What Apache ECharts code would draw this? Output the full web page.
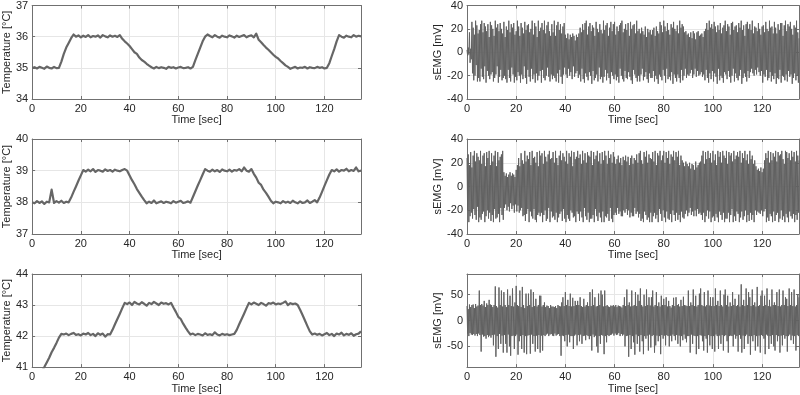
<!DOCTYPE html>
<html><head><meta charset="utf-8">
<script src="https://cdn.jsdelivr.net/npm/echarts@6/dist/echarts.min.js"></script>
<style>html,body{margin:0;padding:0;background:#fff}#c{width:800px;height:395px}</style>
</head><body><div id="c"></div>
<script>
// ---- data ----
const tempStep = 1;    // seconds between temperature samples
const emgStep = 0.25;  // seconds between sEMG samples

const temp1 = [35.0,35.02,34.98,35.03,35.0,34.97,35.04,35.0,34.98,35.03,34.99,35.0,
  35.2,35.45,35.65,35.8,35.95,36.07,
  36.0,36.04,35.98,36.03,35.99,36.05,35.98,36.02,36.0,36.04,35.97,36.05,36.01,35.98,36.04,36.0,36.03,35.99,36.05,
  35.93,35.85,35.78,35.7,35.6,35.5,35.45,35.33,35.25,35.2,35.13,35.07,35.02,34.98,
  35.03,34.99,35.02,35.0,34.97,35.03,35.0,35.02,34.98,35.01,35.03,34.99,35.0,35.02,34.98,35.03,
  35.25,35.45,35.65,35.85,36.0,36.07,
  36.02,35.98,36.05,36.0,35.97,36.03,36.0,35.98,36.04,36.01,35.97,36.03,35.99,36.02,36.05,35.98,36.02,36.04,
  35.98,36.1,35.9,35.82,35.73,35.65,35.58,35.5,35.42,35.35,35.3,35.22,35.15,35.08,35.03,34.97,
  35.0,35.03,34.98,35.01,35.0,35.03,34.98,35.02,35.0,34.99,35.03,35.0,35.02,34.98,35.0,
  35.15,35.38,35.6,35.85,36.05,
  36.0,35.97,36.03,36.0,35.98,36.05,36.0,36.03,36.01];
const temp2 = [38.0,37.97,38.04,37.98,38.03,37.95,38.02,38.0,38.4,37.98,38.04,37.99,38.05,37.98,38.02,38.0,
  38.15,38.33,38.5,38.68,38.85,39.02,
  38.97,39.03,38.98,39.05,38.96,39.02,39.0,38.97,39.04,38.99,39.02,38.97,39.03,39.0,38.98,39.02,39.05,39.0,
  38.85,38.7,38.57,38.42,38.3,38.18,38.07,37.97,
  38.02,37.98,38.06,37.97,38.0,38.03,37.98,38.02,38.0,37.97,38.04,37.99,38.02,38.05,37.98,38.0,38.03,37.99,
  38.17,38.35,38.53,38.7,38.88,39.05,
  39.0,38.97,39.03,38.98,39.02,38.96,39.04,39.0,38.98,39.03,38.97,39.02,39.0,39.05,38.98,39.1,39.0,38.97,39.05,
  38.9,38.78,38.62,38.55,38.4,38.3,38.18,38.05,37.97,
  38.02,38.0,37.97,38.04,37.99,38.02,37.98,38.05,38.0,37.97,38.03,37.98,38.0,38.06,37.98,38.02,38.07,38.0,
  38.15,38.33,38.52,38.7,38.88,39.02,
  38.98,39.04,38.97,39.02,39.0,39.06,38.98,39.02,38.99,39.1,38.98,39.0];
const temp3 = [40.3,40.45,40.6,40.72,40.87,41.0,41.15,41.3,41.48,41.62,41.78,41.95,42.07,
  42.05,42.08,42.03,42.07,42.1,42.04,42.06,42.02,42.08,42.05,42.1,42.03,42.07,42.0,42.09,42.04,42.08,41.98,42.06,42.05,
  42.2,42.38,42.55,42.72,42.9,43.07,
  43.03,43.08,43.0,43.1,43.05,43.02,43.09,43.04,42.98,43.07,43.03,43.1,43.05,43.0,43.08,43.04,43.06,43.02,43.07,
  42.92,42.78,42.62,42.55,42.4,42.27,42.15,42.05,
  42.08,42.03,42.07,42.05,42.02,42.09,42.04,42.06,42.03,42.12,42.05,42.02,42.07,42.04,42.06,42.03,42.05,42.07,
  42.2,42.38,42.55,42.72,42.9,43.07,
  43.02,43.08,43.04,43.0,43.07,43.03,42.98,43.06,43.04,43.08,43.02,43.05,43.03,43.07,43.12,43.0,43.06,43.03,43.05,43.0,
  42.85,42.68,42.5,42.32,42.15,42.05,
  42.08,42.04,42.07,42.02,42.06,42.1,42.03,42.07,42.0,42.08,42.05,42.11,42.02,42.07,42.04,42.09,42.01,42.06,42.08,42.15];

// sEMG, one row per 5 s (20 samples)
const emg1 = [
  2,-3,4,-2,17,-9,3,-6,26,-18,21,-24,15,-20,27,-11,23,-25,16,-22,
  19,-25,24,-14,27,-21,17,-23,25,-12,22,-26,18,-16,24,-20,13,-23,26,-19,
  23,-17,20,-25,14,-22,27,-19,21,-12,24,-26,18,-21,25,-15,20,-24,16,-22,
  26,-20,13,-23,22,-26,19,-15,27,-22,17,-25,24,-13,21,-19,25,-26,15,-21,
  18,-24,27,-17,22,-20,14,-26,25,-19,21,-23,16,-12,26,-22,19,-27,23,-15,
  24,-21,17,-25,20,-14,27,-23,15,-19,25,-26,22,-18,13,-24,27,-20,18,-16,
  21,-26,25,-15,19,-22,27,-24,16,-20,23,-13,26,-21,18,-25,14,-19,24,-23,
  17,-20,27,-22,14,-25,23,-18,26,-26,19,-15,24,-21,16,-27,22,-19,25,-13,
  15,-19,12,-22,16,-14,11,-20,15,-17,13,-23,16,-12,14,-21,10,-18,15,-16,
  13,-22,16,-19,21,-25,17,-14,24,-23,19,-26,25,-18,27,-21,15,-24,22,-17,
  25,-20,18,-27,23,-16,21,-24,14,-22,26,-19,20,-25,17,-13,24,-23,19,-21,
  16,-26,27,-21,19,-15,23,-24,25,-18,14,-22,21,-27,26,-17,18,-20,24,-23,
  26,-19,15,-24,22,-21,18,-26,23,-14,25,-20,27,-23,17,-25,20,-16,24,-22,
  19,-23,25,-17,14,-21,26,-24,20,-27,23,-15,24,-19,16,-22,27,-25,18,-20,
  20,-25,16,-19,21,-14,18,-24,15,-21,22,-17,13,-23,20,-26,17,-18,19,-22,
  15,-22,19,-16,21,-25,14,-20,22,-23,18,-27,16,-19,26,-21,23,-24,17,-15,
  27,-20,22,-26,18,-14,25,-23,19,-21,15,-24,24,-17,21,-27,26,-19,20,-22,
  18,-25,23,-19,16,-22,27,-26,21,-15,24,-24,22,-20,17,-14,18,-22,15,-19,
  16,-20,13,-18,17,-15,12,-22,18,-19,16,-14,11,-21,17,-16,18,-20,14,-19,
  15,-17,16,-21,13,-19,18,-24,20,-15,25,-22,19,-26,27,-18,21,-23,24,-16,
  20,-25,26,-18,22,-21,17,-27,23,-14,19,-24,25,-20,16,-22,21,-26,23,-17,
  27,-19,18,-23,24,-16,22,-21,15,-26,25,-20,26,-14,19,-25,22,-18,23,-22,
  17,-24,25,-20,21,-15,27,-27,19,-22,23,-18,14,-21,24,-25,26,-16,20,-22,
  24,-17,19,-14,27,-18,16,-20,22,-15,21,-19,18,-13,25,-17,20,-20,15,-16,
  22,-26,23,-19,17,-21,26,-15,20,-24,18,-22,27,-17,21,-25,22,-20,16,-23,
  26,-18,21,-27,16,-22,24,-23,19,-15,25,-26,25,-20,14,-21,23,-24,27,-19,
  18,-25,24,-16,22,-21,26,-19,20,-27,15,-22,23,-18,21,-24,27,-20,17,-26,
  12];
const emg2 = [
  24,-20,27,-30,18,-25,29,-22,16,-27,26,-19,30,-24,21,-28,28,-17,25,-30,
  22,-26,30,-28,19,-23,26,-21,28,-30,17,-25,29,-20,24,-27,30,-22,18,-29,
  28,-24,21,-30,26,-19,30,-27,17,-26,29,-23,22,-30,25,-18,27,-24,30,-28,
  12,-18,9,-15,11,-20,8,-17,10,-21,12,-14,9,-19,11,-16,10,-22,8,-15,
  14,-21,18,-16,24,-22,17,-20,28,-18,22,-25,19,-24,30,-29,21,-23,26,-19,
  23,-30,29,-21,18,-25,30,-27,24,-19,25,-28,20,-30,29,-24,17,-22,30,-25,
  26,-22,28,-30,19,-24,30,-20,25,-29,21,-27,27,-18,30,-30,23,-21,24,-26,
  29,-25,20,-28,30,-22,24,-30,18,-26,26,-23,30,-21,22,-29,28,-19,25,-27,
  21,-30,30,-24,19,-27,28,-29,25,-20,30,-22,17,-26,29,-25,23,-30,25,-21,
  30,-23,24,-29,27,-21,19,-26,30,-30,22,-18,28,-25,20,-28,29,-22,26,-30,
  25,-27,30,-27,18,-24,29,-30,23,-19,26,-25,30,-29,21,-22,28,-26,19,-30,
  29,-21,22,-30,30,-25,26,-26,19,-23,30,-29,24,-18,27,-27,20,-30,29,-24,
  25,-22,19,-24,23,-18,26,-23,20,-21,24,-25,18,-25,25,-20,22,-22,26,-19,
  21,-24,25,-20,18,-26,24,-22,26,-25,19,-25,24,-18,22,-23,27,-21,20,-26,
  28,-23,30,-29,22,-27,19,-30,29,-21,25,-24,30,-28,20,-26,27,-30,24,-22,
  23,-30,29,-25,21,-22,30,-27,18,-24,28,-30,26,-19,30,-23,22,-29,26,-20,
  30,-26,20,-30,29,-21,24,-27,30,-28,19,-23,27,-30,25,-20,30,-24,22,-29,
  29,-22,25,-28,30,-24,18,-30,26,-21,22,-26,20,-27,17,-23,21,-20,19,-25,
  17,-22,20,-18,15,-24,19,-21,18,-25,14,-20,21,-25,16,-19,18,-23,20,-22,
  21,-24,26,-28,30,-22,19,-30,29,-25,23,-20,30,-27,24,-21,28,-30,20,-26,
  30,-25,22,-29,27,-23,18,-26,30,-30,25,-21,29,-24,20,-28,30,-22,26,-30,
  24,-27,30,-27,19,-22,29,-30,26,-24,28,-19,21,-30,30,-25,23,-29,26,-21,
  29,-23,25,-30,30,-26,20,-21,28,-28,24,-25,30,-20,22,-30,27,-24,19,-29,
  30,-22,23,-28,26,-24,19,-30,22,-20,17,-24,14,-21,15,-22,13,-23,16,-20,
  12,-25,15,-21,22,-19,28,-30,24,-26,30,-29,20,-23,29,-25,22,-30,28,-21,
  25,-29,30,-24,21,-22,29,-30,26,-27,27,-20,30,-28,23,-25,19,-30,30,-23,
  29,-26,24,-30,28,-21,22,-25,30,-27,25,-23,29,-30,21,-24,30,-28,26,-22,
  22];
const emg3 = [
  28,-25,22,-30,31,-24,26,-27,30,-28,31,-26,24,-29,32,-26,27,-30,29,-25,
  58,-28,30,-60,32,-27,29,-31,38,-30,26,-35,33,-28,30,-32,40,-29,31,-33,
  30,-28,26,-48,30,-27,66,-70,28,-30,25,-55,64,-26,30,-45,58,-29,27,-62,
  55,-28,30,-45,26,-62,60,-27,30,-50,48,-68,28,-30,62,-29,27,-55,35,-30,
  67,-27,30,-66,28,-40,58,-30,26,-55,65,-28,30,-62,24,-30,52,-65,28,-29,
  52,-28,30,-64,60,-27,26,-45,55,-30,28,-60,42,-29,27,-55,30,-28,48,-62,
  48,-29,27,-58,30,-28,35,-30,26,-27,29,-25,28,-30,24,-27,30,-26,27,-29,
  27,-30,26,-25,28,-29,24,-27,30,-26,28,-30,27,-68,35,-29,45,-30,28,-40,
  55,-28,30,-50,40,-27,28,-42,52,-30,27,-30,44,-55,28,-29,38,-27,30,-48,
  38,-28,30,-40,45,-27,28,-45,26,-30,42,-29,27,-38,30,-28,35,-30,28,-36,
  55,-30,28,-58,60,-27,30,-32,45,-29,27,-50,28,-62,52,-30,30,-45,58,-28,
  50,-29,27,-65,58,-30,28,-42,30,-28,27,-30,26,-28,29,-27,28,-25,30,-29,
  27,-25,30,-28,26,-27,29,-24,28,-30,27,-26,25,-29,30,-27,45,-50,28,-30,
  60,-29,30,-70,35,-28,27,-55,58,-30,28,-42,30,-66,55,-27,28,-45,50,-30,
  38,-60,62,-28,30,-40,27,-65,50,-30,28,-35,60,-29,30,-58,45,-27,29,-52,
  45,-30,58,-28,27,-62,30,-48,55,-29,28,-40,35,-30,27,-65,48,-28,30,-35,
  42,-29,30,-48,45,-28,27,-30,38,-50,28,-29,25,-40,30,-27,44,-30,28,-38,
  45,-28,30,-45,32,-29,27,-50,40,-30,28,-38,46,-27,30,-35,29,-42,28,-30,
  58,-30,28,-62,35,-27,30,-45,60,-29,28,-30,48,-65,27,-30,30,-55,52,-28,
  62,-29,30,-40,28,-58,55,-30,27,-35,30,-62,58,-28,29,-48,45,-30,28,-55,
  45,-30,28,-60,62,-27,30,-30,38,-55,28,-29,58,-45,30,-28,27,-58,50,-30,
  60,-28,30,-40,48,-62,27,-30,35,-29,28,-30,55,-50,30,-27,42,-35,28,-30,
  30,-60,50,-28,27,-35,70,-62,30,-29,40,-55,28,-30,62,-27,30,-45,55,-30,
  45,-66,28,-30,60,-40,30,-28,35,-58,27,-30,65,-50,28,-29,30,-62,48,-28,
  58,-30,28,-35,48,-65,30,-27,62,-29,28,-55,40,-30,27,-45,60,-28,30,-50,
  35,-58,30,-28,55,-40,28,-30,60,-62,27,-29,30,-48,58,-28,30,-35,45,-30,
  42,-60,28,-30,62,-27,30,-38,55,-29,28,-45,60,-30,27,-58,30,-28,50,-30,
  45];

const xTicks = [0, 20, 40, 60, 80, 100, 120];
const tempTicks1 = [34, 35, 36, 37];
const tempTicks2 = [37, 38, 39, 40];
const tempTicks3 = [41, 42, 43, 44];
const emgTicks1 = [-40, -20, 0, 20, 40];
const emgTicks2 = [-40, -20, 0, 20, 40];
const emgTicks3 = [-50, 0, 50];

const tempName = 'Temperature [°C]';
const emgName = 'sEMG [mV]';
const timeName = 'Time [sec]';

// ---- layout / style ----
const FONT = "'Liberation Sans', Arial, Helvetica, sans-serif";
const TXT = '#262626', BOX = '#707070', GRIDC = '#e6e6e6';
const panels = [
  {left: 29,  top: 4,   vals: temp1, step: tempStep, yMin: 34, yMax: 37, ticks: tempTicks1, name: tempName, lw: 2.2, gap: 17},
  {left: 467, top: 4,   vals: emg1,  step: emgStep,  yMin: -40, yMax: 40, ticks: emgTicks1, name: emgName, lw: 1, gap: 21},
  {left: 29,  top: 139, vals: temp2, step: tempStep, yMin: 37, yMax: 40, ticks: tempTicks2, name: tempName, lw: 2.2, gap: 17},
  {left: 467, top: 139, vals: emg2,  step: emgStep,  yMin: -40, yMax: 40, ticks: emgTicks2, name: emgName, lw: 1, gap: 21},
  {left: 29,  top: 274, vals: temp3, step: tempStep, yMin: 41, yMax: 44, ticks: tempTicks3, name: tempName, lw: 2.2, gap: 17},
  {left: 467, top: 274, vals: emg3,  step: emgStep,  yMin: -90, yMax: 90, ticks: emgTicks3, name: emgName, lw: 1, gap: 21}
];

const grid = [], xAxis = [], yAxis = [], series = [];
const lblStyle = {color: TXT, fontSize: 11, fontFamily: FONT};
panels.forEach((p, i) => {
  grid.push({left: p.left, top: p.top, width: 332, height: 95, containLabel: false});
  const xBase = {type: 'value', gridIndex: i, min: 0, max: 135,
    axisLine: {show: true, onZero: false, lineStyle: {color: BOX, width: 1}},
    axisTick: {show: true, inside: true, length: 3, lineStyle: {color: BOX}, customValues: xTicks}};
  xAxis.push(Object.assign({}, xBase, {position: 'bottom',
    axisLabel: Object.assign({margin: 4, customValues: xTicks}, lblStyle),
    splitLine: {show: true, lineStyle: {color: GRIDC, width: 1}},
    name: timeName, nameLocation: 'middle', nameGap: 15, nameTextStyle: lblStyle}));
  xAxis.push(Object.assign({}, xBase, {position: 'top', axisLabel: {show: false}, splitLine: {show: false}}));
  const yBase = {type: 'value', gridIndex: i, min: p.yMin, max: p.yMax,
    axisLine: {show: true, onZero: false, lineStyle: {color: BOX, width: 1}},
    axisTick: {show: true, inside: true, length: 3, lineStyle: {color: BOX}, customValues: p.ticks}};
  yAxis.push(Object.assign({}, yBase, {position: 'left',
    axisLabel: Object.assign({margin: 4, customValues: p.ticks}, lblStyle),
    splitLine: {show: true, lineStyle: {color: GRIDC, width: 1}},
    name: p.name, nameLocation: 'middle', nameGap: p.gap, nameRotate: 90, nameTextStyle: lblStyle}));
  yAxis.push(Object.assign({}, yBase, {position: 'right', axisLabel: {show: false}, splitLine: {show: false}}));
  series.push({type: 'line', xAxisIndex: 2 * i, yAxisIndex: 2 * i,
    data: p.vals.map((v, k) => [k * p.step, v]),
    showSymbol: false, symbol: 'none', clip: true,
    lineStyle: {color: p.lw > 1 ? '#666666' : '#616161', width: p.lw, join: 'round'},
    emphasis: {disabled: true}, z: 3});
});

const chart = echarts.init(document.getElementById('c'), null, {renderer: 'canvas'});
chart.setOption({animation: false, backgroundColor: '#ffffff', grid, xAxis, yAxis, series});
</script></body></html>
